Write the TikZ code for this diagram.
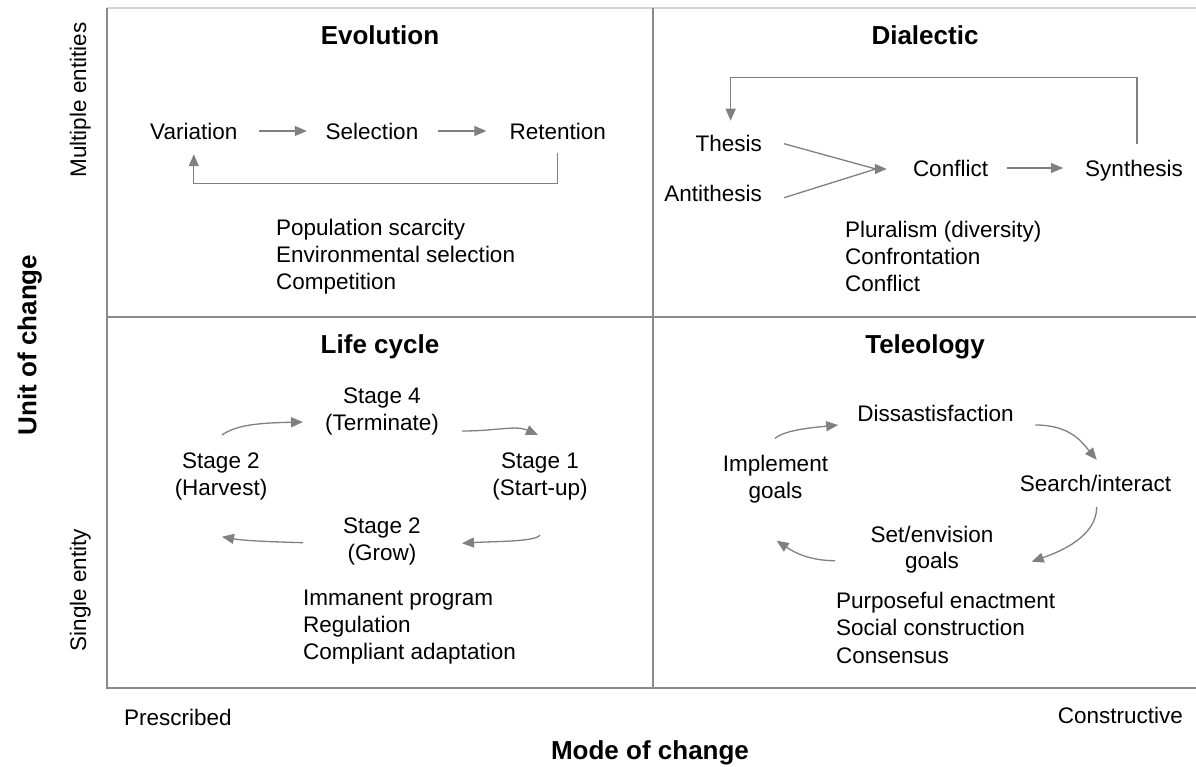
\documentclass[tikz,border=0pt]{standalone}
\usepackage{fontspec}
\setmainfont{Liberation Sans}
\usetikzlibrary{arrows.meta,calc}
\definecolor{arrowgray}{HTML}{808080}
\definecolor{framegray}{HTML}{8A8A8A}
\definecolor{topgray}{HTML}{D4D4D4}
\begin{document}
\begin{tikzpicture}[x=1pt,y=-1pt,
  lbl/.style={inner sep=0pt, font=\fontsize{22.5pt}{27pt}\selectfont, text height=16.1pt, text depth=0pt},
  % two-line labels: box top sits on the cap line of the first line
  mlbl/.style={inner sep=0pt, font=\fontsize{22.5pt}{27.5pt}\selectfont, align=center, text height=43.6pt, anchor=north},
  mlblb/.style={inner sep=0pt, font=\fontsize{22.5pt}{26.5pt}\selectfont, align=center, text height=42.6pt, anchor=north},
  % three-line lists
  listlbl/.style={inner sep=0pt, font=\fontsize{22.5pt}{27pt}\selectfont, align=left, text height=70.1pt, anchor=north west},
  ttl/.style={inner sep=0pt, font=\fontsize{26pt}{30pt}\selectfont\bfseries, text height=18.6pt, text depth=0pt},
  arr/.style={draw=arrowgray, line width=1.3pt, -{Triangle[length=12pt,width=10pt]}},
  ln/.style={draw=arrowgray, line width=1.3pt},
  framel/.style={draw=framegray, line width=1.8pt},
  topl/.style={draw=topgray, line width=1.2pt}]

\useasboundingbox[fill=white] (0,0) rectangle (1196,767);

% quadrant frame
\draw[topl] (107,8) -- (1196,8);
\draw[framel] (107,8) -- (107,688) -- (1196,688);
\draw[framel] (653,8) -- (653,688);
\draw[framel] (107,316.7) -- (1196,316.7);

% axis labels
\node[ttl, rotate=90] (unit) at (27,345) {Unit of change};
\node[lbl, rotate=90] (multi) at (78,100) {Multiple entities};
\node[lbl, rotate=90] (single) at (78,590) {Single entity};
\node[lbl, anchor=west] (pres) at (124,717) {Prescribed};
\node[lbl, anchor=east] (cons) at (1183,715) {Constructive};
\node[ttl] (mode) at (650,750) {Mode of change};

% ---- Evolution ----
\node[ttl] (tEvo) at (380,35) {Evolution};
\node[lbl] (var) at (193.8,131) {Variation};
\node[lbl] (sel) at (372,131) {Selection};
\node[lbl] (ret) at (557.7,131) {Retention};
\draw[arr, shorten <=21pt, shorten >=18.7pt] (var.east) -- (sel.west);
\draw[arr, shorten <=19.5pt, shorten >=23pt] (sel.east) -- (ret.west);
\draw[arr] ($(ret.south)+(0,14)$) -- ++(0,30.3) -| ($(var.south)+(0,15)$);
\node[listlbl] (evoList) at (276,219) {Population scarcity\\Environmental selection\\Competition};

% ---- Dialectic ----
\node[ttl] (tDia) at (925,35) {Dialectic};
\node[lbl, anchor=east] (the) at (762,143) {Thesis};
\node[lbl, anchor=east] (ant) at (762,193) {Antithesis};
\node[lbl] (con) at (950.5,168) {Conflict};
\node[lbl] (syn) at (1134,168) {Synthesis};
\coordinate (cin) at ($(con.west)+(-26,1)$);
\coordinate (cbase) at ($(cin)+(-11,0)$);
\draw[ln] ($(the.east)+(22,0.7)$) -- (cbase);
\draw[ln] ($(ant.east)+(22,4.7)$) -- (cbase);
\draw[arr] ($(cin)+(-13,0)$) -- (cin);
\draw[arr, shorten <=19pt, shorten >=22pt] (con.east) -- (syn.west);
\draw[arr] ($(syn.north)+(3,-16)$) -- ++(0,-66.5) -| ($(the.north)+(2,-14)$);
\node[listlbl] (diaList) at (845,221) {Pluralism (diversity)\\Confrontation\\Conflict};

% ---- Life cycle ----
\node[ttl] (tLife) at (380,344) {Life cycle};
\node[mlbl] (s4) at (382,387) {Stage 4\\(Terminate)};
\node[mlbl] (s1) at (540,452) {Stage 1\\(Start-up)};
\node[mlbl] (s2g) at (382,517) {Stage 2\\(Grow)};
\node[mlbl] (s2h) at (221,452) {Stage 2\\(Harvest)};
\coordinate (h1) at ($(s2h.north)+(1,-17)$);
\coordinate (h2) at ($(s4.north)+(-79,35)$);
\draw[arr] (h1) .. controls ($(h1)+(14,-10)$) and ($(h2)+(-45,1)$) .. (h2);
\coordinate (t1) at ($(s4.north)+(80,44)$);
\coordinate (t2) at ($(s1.north)+(-2,-17)$);
\draw[arr] (t1) .. controls ($(t1)+(35,0)$) and ($(t2)+(-22,-10)$) .. (t2);
\coordinate (u1) at ($(s1.north)+(0,83)$);
\coordinate (u2) at ($(s2g.north)+(80,26.3)$);
\draw[arr] (u1) .. controls ($(u1)+(-4,7)$) and ($(u2)+(30,-2)$) .. (u2);
\coordinate (g1) at ($(s2g.north)+(-79,25.7)$);
\coordinate (g2) at ($(s2h.north)+(1,84.7)$);
\draw[arr] (g1) .. controls ($(g1)+(-35,-1)$) and ($(g2)+(22,4)$) .. (g2);
\node[listlbl] (lifeList) at (303,589) {Immanent program\\Regulation\\Compliant adaptation};

% ---- Teleology ----
\node[ttl] (tTel) at (925,344) {Teleology};
\node[lbl] (dis) at (935.5,413.3) {Dissastisfaction};
\node[mlblb] (imp) at (775.5,455.3) {Implement\\goals};
\node[lbl] (sea) at (1095.5,483.3) {Search/interact};
\node[mlblb] (setg) at (932,526) {Set/envision\\goals};
\coordinate (i1) at ($(imp.north)+(-0.5,-17)$);
\coordinate (i2) at ($(dis.west)+(-19,11.7)$);
\draw[arr] (i1) .. controls ($(i1)+(10,-8)$) and ($(i2)+(-30,3)$) .. (i2);
\coordinate (d1) at ($(dis.east)+(21.4,11.7)$);
\coordinate (d2) at ($(sea.north)+(1.2,-15.2)$);
\draw[arr] (d1) .. controls ($(d1)+(35,0)$) and ($(d2)+(-15,-18)$) .. (d2);
\coordinate (e1) at ($(sea.south)+(1.2,15.3)$);
\coordinate (e2) at ($(setg.north)+(99.7,35.7)$);
\draw[arr] (e1) .. controls ($(e1)+(0,30)$) and ($(e2)+(28,-10)$) .. (e2);
\coordinate (v1) at ($(setg.north)+(-97,34.7)$);
\coordinate (v2) at ($(imp.north)+(1.2,85.4)$);
\draw[arr] (v1) .. controls ($(v1)+(-25,0)$) and ($(v2)+(18,12)$) .. (v2);
\node[listlbl, font=\fontsize{22.5pt}{27.5pt}\selectfont, text height=71.1pt] (telList) at (836,592) {Purposeful enactment\\Social construction\\Consensus};

\end{tikzpicture}
\end{document}
